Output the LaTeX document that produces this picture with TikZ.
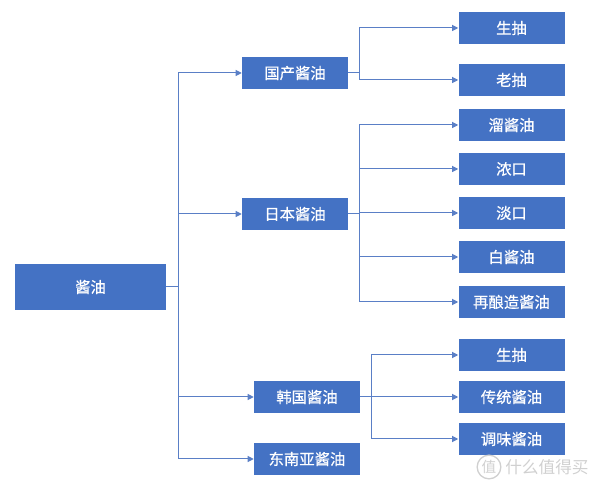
\documentclass[tikz,border=0pt]{standalone}
\usepackage{fontspec}
\setmainfont{Noto Sans CJK SC}
\newfontfamily\boxfont[FakeBold=0.6]{Noto Sans CJK SC}
\usepackage{xcolor}
\usetikzlibrary{arrows.meta}
\definecolor{BoxBlue}{HTML}{4472C4}
\definecolor{LinkBlue}{HTML}{5A7FC6}
\definecolor{MarkGray}{HTML}{D0D0D0}

\begin{document}
\begin{tikzpicture}[x=0.75pt,y=-0.75pt,
  box/.style={fill=BoxBlue,text=white,minimum width=79.5pt,minimum height=24pt,
    inner sep=0pt,font=\boxfont\fontsize{11.5}{13}\selectfont},
  link/.style={draw=LinkBlue,line width=0.75pt},
  arrowlink/.style={link,-{Triangle[length=4.5pt,width=4.5pt]}}]
   \useasboundingbox (0,0) rectangle (600,484);

   \node[box,minimum width=113pt,minimum height=34.5pt] (root) at (90.5,287) {酱油};
   \foreach \y/\name/\txt in {73/cn/国产酱油,214/jp/日本酱油} {
    \node[box] (\name) at (295,\y) {\txt};
   }
   \foreach \y/\name/\txt in {397/kr/韩国酱油,459/sea/东南亚酱油} {
    \node[box] (\name) at (307,\y) {\txt};
   }
   \foreach \y/\name/\txt in {28/cnA/生抽,80/cnB/老抽,
     125/jpA/溜酱油,169/jpB/浓口,213/jpC/淡口,257/jpD/白酱油,302/jpE/再酿造酱油,
     355/krA/生抽,397/krB/传统酱油,439/krC/调味酱油} {
    \node[box] (\name) at (511.5,\y) {\txt};
   }

   \coordinate (trunk) at (178,287);
   \draw[link] (root.east) -- (trunk);
   \draw[link] (trunk |- cn) -- (trunk |- sea);
   \foreach \name in {cn,jp,kr,sea} {
    \draw[arrowlink] (trunk |- \name) -- (\name.west);
   }

   \coordinate (cnfork) at (359,73);
   \draw[link] (cn.east) -- (cnfork);
   \draw[link] (cnfork |- cnA) -- (cnfork |- cnB);
   \foreach \name in {cnA,cnB} {
    \draw[arrowlink] (cnfork |- \name) -- (\name.west);
   }

   \coordinate (jpfork) at (359,214);
   \draw[link] (jp.east) -- (jpfork);
   \draw[link] (jpfork |- jpA) -- (jpfork |- jpE);
   \foreach \name in {jpA,jpB,jpC,jpD,jpE} {
    \draw[arrowlink] (jpfork |- \name) -- (\name.west);
   }

   \coordinate (krfork) at (371,397);
   \draw[link] (kr.east) -- (krfork);
   \draw[link] (krfork |- krA) -- (krfork |- krC);
   \foreach \name in {krA,krB,krC} {
    \draw[arrowlink] (krfork |- \name) -- (\name.west);
   }

   \node[draw=MarkGray,circle,line width=1pt,inner sep=1pt,text=MarkGray,
     font=\fontsize{11}{12}\selectfont] (markzhi) at (489,467) {值};
   \node[text=MarkGray,anchor=west,inner sep=0pt,
     font=\fontsize{12.5}{13}\selectfont] (markname) at (505,467) {什么值得买};
  \end{tikzpicture}
\end{document}
